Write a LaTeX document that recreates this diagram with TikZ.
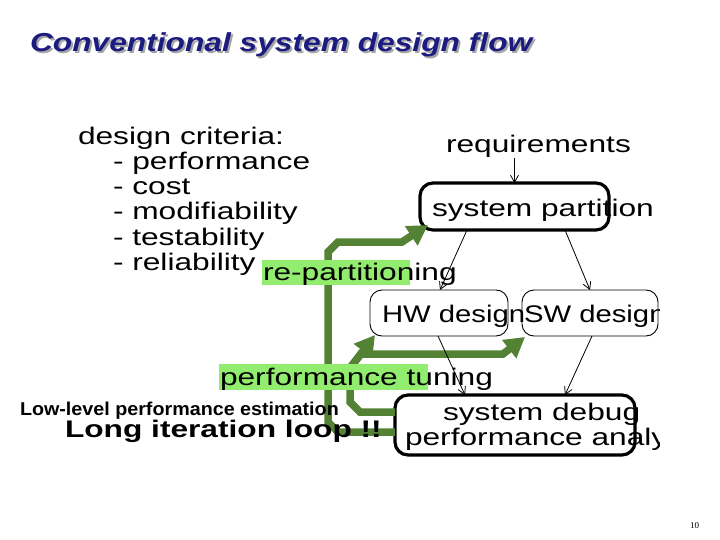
\documentclass[tikz,border=0pt]{standalone}
\usepackage{fontspec}
\usepackage{xcolor}
\usepackage{tikz}
\usetikzlibrary{arrows.meta}
\newfontfamily\slidefont[FakeStretch=1.32]{Liberation Sans}
\newfontfamily\boxfont[FakeStretch=1.22]{Liberation Sans}
\newfontfamily\headfont[FakeStretch=1.22]{Liberation Sans}
\newfontfamily\notefont[FakeStretch=1.06]{Liberation Sans}
\newfontfamily\pagefont{Liberation Serif}
\definecolor{titleblue}{RGB}{28,28,128}
\definecolor{loopgreen}{RGB}{84,130,53}
\definecolor{hilite}{RGB}{146,236,110}
\newcommand{\shadowed}[1]{\makebox[0pt][l]{\hspace*{2pt}\raisebox{-2pt}{\textcolor{gray!70}{#1}}}\textcolor{titleblue}{#1}}

\begin{document}
\begin{tikzpicture}[x=1pt, y=-1pt,
  every node/.style={inner sep=0pt, outer sep=0pt},
  txt/.style={anchor=base west, font=\slidefont\fontsize{24}{25}\selectfont},
  boxtxt/.style={anchor=base west, font=\boxfont\fontsize{24}{25}\selectfont},
  heading/.style={anchor=base west, font=\headfont\bfseries\itshape\fontsize{26}{28}\selectfont},
  thickbox/.style={draw, line width=3.2pt, rounded corners=13pt},
  thinbox/.style={draw, line width=0.9pt, rounded corners=12pt},
  flow/.style={-{Straight Barb[length=7pt,width=8pt]}, line width=0.8pt},
  iter/.style={-{Triangle[length=20pt,width=22pt]}, loopgreen, line width=7.5pt}]
\useasboundingbox (0,0) rectangle (720,540);

\node[heading] (titletxt) at (30,52) {\shadowed{Conventional system design flow}};

\node[txt] (crit) at (78,145) {design criteria:};
\foreach \w [count=\i] in {performance,cost,modifiability,testability,reliability}
  \node[txt] (crit\i) at (113,145+25*\i) {- \w};

\node[thickbox, minimum width=189pt, minimum height=47pt] (partbox) at (514.5,206.5) {};
\node[thinbox, minimum width=138pt, minimum height=46pt] (hwbox) at (439,313) {};
\node[thinbox, minimum width=136pt, minimum height=46pt] (swbox) at (590,313) {};
\node[thickbox, minimum width=240pt, minimum height=60pt] (debugbox) at (515,425) {};

\coordinate (fork) at (350,368);
\draw[iter] ([yshift=-7pt]debugbox.west) -- (338,432) -- (328,422) -- (328,252)
  -- (338,242) -- (402,242) -- ([shift={(8pt,5pt)}]partbox.south west);
\draw[iter] ([yshift=13pt]debugbox.west) -- (360,412) -- (350,402) -- (fork)
  -- ([shift={(5pt,1pt)}]hwbox.south west);
\draw[iter] (fork) -- (361,354) -- (503,354) -- ([shift={(3pt,-1pt)}]swbox.south west);

\fill[hilite] (262,260) rectangle (410,285);
\fill[hilite] (219,364) rectangle (428,390);

\begin{scope}
\clip (0,0) rectangle (659,540);
\node[txt] (req) at (446,153) {requirements};
\node[txt] (parttxt) at (432,217) {system partition};
\node[txt] (repart) at (263,280) {re-partitioning};
\node[boxtxt] (hwtxt) at (382,322) {HW design};
\node[boxtxt] (swtxt) at (524,322) {SW design};
\node[txt] (tune) at (220,385) {performance tuning};
\node[txt] (dbgtxt) at (443,420) {system debug};
\node[txt] (anatxt) at (405,445) {performance analysis};
\end{scope}

\draw[flow] (req.south -| partbox.north) -- (partbox.north);
\draw[flow] ([xshift=-47.5pt]partbox.south) -- ([xshift=1pt]hwbox.north);
\draw[flow] ([xshift=50.5pt]partbox.south) -- (swbox.north);
\draw[flow] ([xshift=-1pt]hwbox.south) -- ([xshift=-50pt]debugbox.north);
\draw[flow] ([xshift=2pt]swbox.south) -- ([xshift=50pt]debugbox.north);

\node[anchor=base west, font=\notefont\bfseries\fontsize{18.6}{22}\selectfont] (estim) at (20,415)
  {Low-level performance estimation};
\node[txt, font=\slidefont\bfseries\fontsize{24}{25}\selectfont] (longloop) at (65,437)
  {Long iteration loop !!};
\node[anchor=base west, font=\pagefont\fontsize{9}{10}\selectfont] (pageno) at (690,528) {10};
\end{tikzpicture}
\end{document}
